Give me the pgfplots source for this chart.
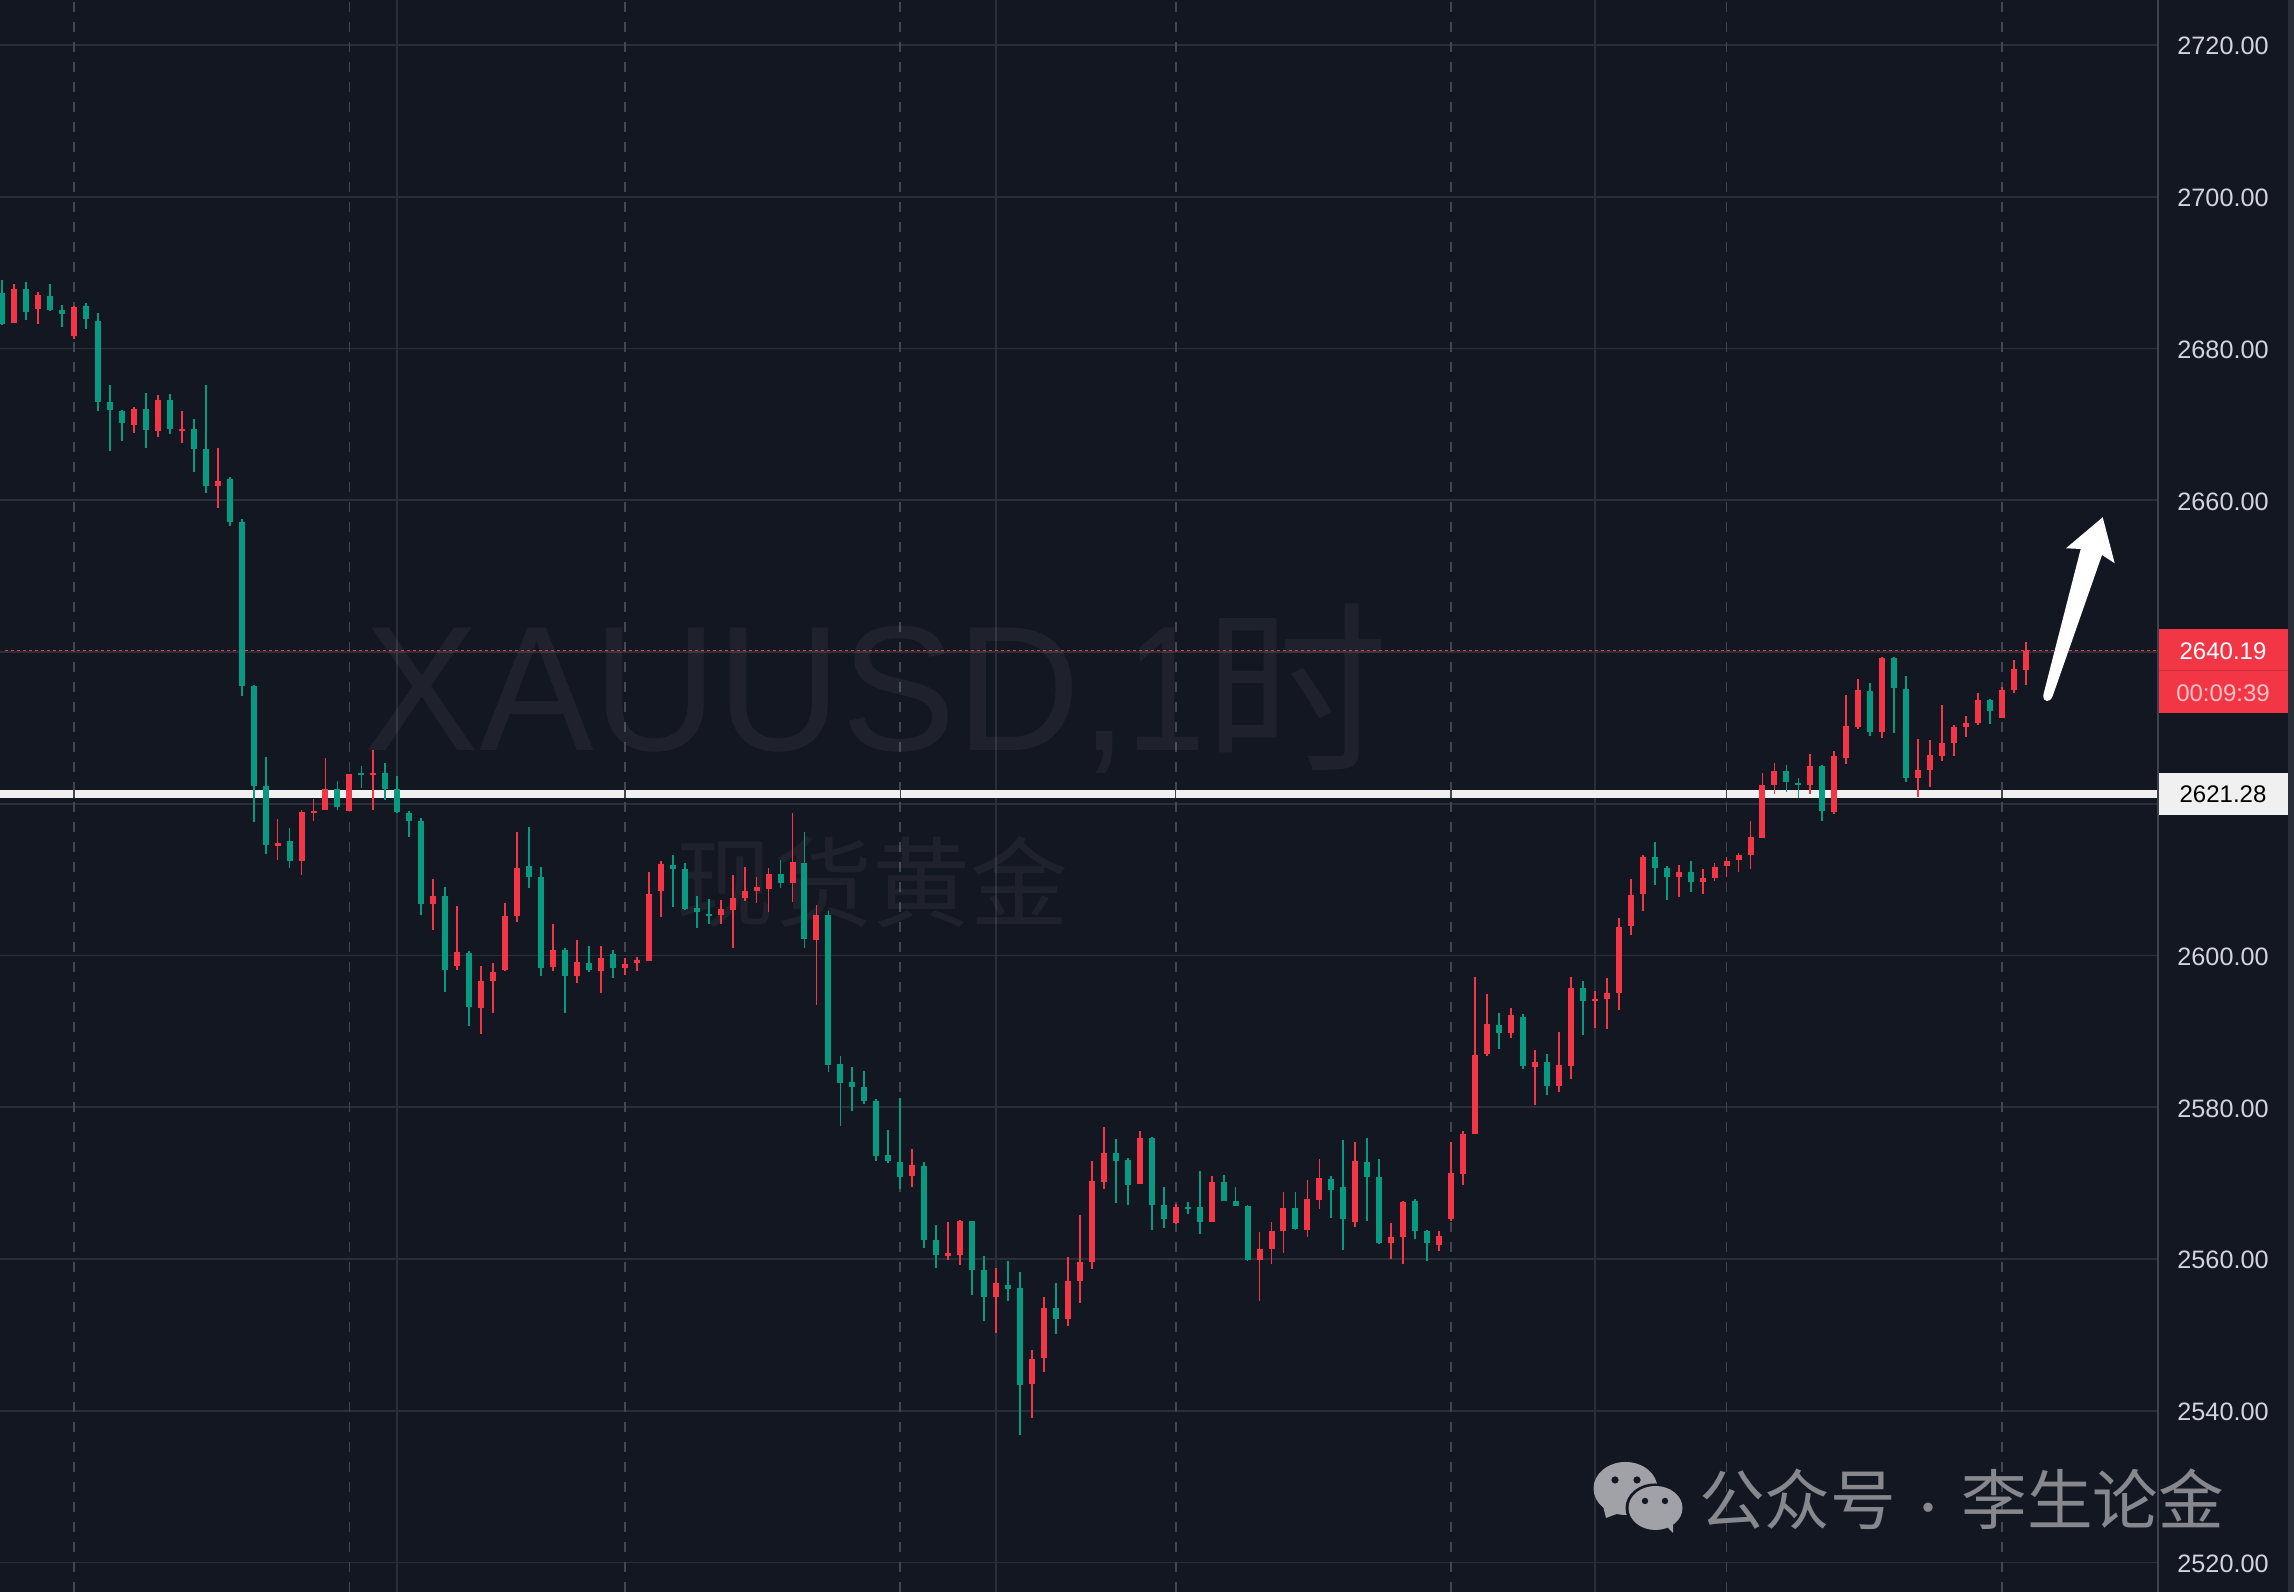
\documentclass[border=0pt]{standalone}
\usepackage{fontspec}
\usepackage{graphicx}
\usepackage{pgfplots}
\usepackage{pgfplotstable}
\pgfplotsset{compat=1.18}
\setmainfont{Liberation Sans}
\newfontfamily\cjk{Noto Sans CJK SC}

\definecolor{bg}{HTML}{131722}
\definecolor{gridc}{HTML}{2A2E39}
\definecolor{sessionc}{HTML}{434651}
\definecolor{axisc}{HTML}{3E424D}
\definecolor{upc}{HTML}{F23645}
\definecolor{downc}{HTML}{089981}
\definecolor{labelc}{HTML}{D1D4DC}
\definecolor{markc}{HTML}{87888D}

% i high low top bottom
\pgfplotstableread{
i hi lo top bot
1 2688.47 2683.36 2687.80 2683.36
3 2687.39 2683.23 2686.99 2685.18
6 2685.58 2681.21 2685.45 2681.61
11 2672.27 2668.84 2672.00 2669.92
13 2673.88 2668.30 2673.21 2669.11
15 2671.73 2667.50 2669.38 2669.11
18 2666.89 2658.96 2662.52 2661.85
23 2617.95 2612.57 2614.79 2614.39
25 2619.16 2610.62 2618.89 2612.44
26 2620.64 2617.68 2619.09 2618.75
27 2626.02 2619.16 2621.92 2619.16
29 2623.93 2619.02 2623.93 2619.02
31 2627.09 2619.16 2624.07 2623.80
36 2610.08 2603.36 2607.80 2606.79
38 2606.52 2598.05 2600.47 2598.59
40 2598.59 2589.65 2596.64 2593.08
41 2599.00 2592.40 2597.78 2596.64
42 2606.92 2597.92 2605.18 2598.05
43 2616.27 2604.37 2611.50 2605.18
46 2604.17 2598.00 2600.74 2598.51
48 2602.05 2596.40 2599.14 2597.31
50 2601.25 2595.08 2599.71 2598.00
52 2599.71 2597.37 2598.91 2598.34
53 2599.83 2598.00 2599.43 2599.03
54 2611.03 2599.31 2608.11 2599.31
55 2612.45 2605.08 2612.05 2608.51
60 2607.31 2604.17 2606.17 2605.37
61 2610.63 2601.03 2607.60 2606.00
62 2611.65 2607.20 2608.51 2607.54
63 2610.34 2606.91 2609.03 2608.51
64 2611.54 2605.77 2610.74 2608.80
66 2618.80 2607.08 2612.34 2609.54
68 2606.68 2593.48 2605.37 2602.05
76 2574.51 2569.54 2572.40 2570.97
79 2564.91 2559.88 2560.74 2560.40
80 2565.14 2559.25 2565.03 2560.57
83 2558.85 2550.28 2556.85 2555.03
86 2548.05 2539.08 2546.85 2543.54
87 2555.03 2545.14 2553.54 2546.97
89 2560.28 2551.20 2557.14 2552.11
90 2565.83 2554.23 2559.66 2557.14
91 2572.91 2558.68 2570.28 2559.66
92 2577.33 2569.17 2573.91 2570.09
95 2576.80 2569.83 2575.88 2569.83
98 2567.20 2564.57 2566.80 2564.70
101 2570.88 2564.83 2570.09 2564.83
105 2563.51 2554.43 2561.28 2559.83
106 2564.83 2559.30 2563.64 2561.28
107 2568.78 2560.75 2566.67 2563.64
109 2570.36 2562.86 2567.86 2563.78
110 2573.12 2566.54 2570.62 2567.72
113 2575.36 2564.17 2572.86 2564.83
116 2564.70 2559.96 2562.86 2562.07
117 2567.59 2559.30 2567.46 2562.86
120 2563.64 2561.01 2562.99 2561.80
121 2575.36 2564.96 2571.28 2565.22
122 2576.93 2569.70 2576.41 2571.15
123 2597.17 2576.41 2586.89 2576.41
124 2594.93 2586.80 2590.97 2587.06
126 2593.08 2589.13 2592.16 2589.79
128 2587.55 2580.30 2585.97 2585.31
130 2589.92 2582.01 2585.57 2582.80
131 2597.17 2583.73 2595.72 2585.44
133 2595.32 2590.45 2594.27 2594.00
134 2597.03 2590.31 2595.06 2594.27
135 2604.94 2592.82 2603.75 2595.06
136 2610.08 2602.70 2607.97 2603.88
137 2613.24 2605.86 2612.98 2608.10
140 2611.92 2607.70 2610.99 2610.34
142 2611.39 2608.10 2610.21 2609.68
143 2612.18 2609.81 2611.66 2610.21
144 2612.98 2610.34 2612.45 2611.79
145 2613.50 2611.00 2613.24 2612.58
146 2617.72 2611.39 2615.61 2613.24
147 2624.04 2615.48 2622.46 2615.48
148 2625.36 2621.28 2624.31 2622.46
151 2626.55 2621.28 2624.96 2622.46
153 2626.94 2618.64 2626.28 2618.90
154 2634.32 2625.23 2630.23 2626.02
155 2636.43 2629.84 2634.98 2630.06
157 2639.33 2628.65 2639.19 2629.44
160 2628.52 2620.88 2624.44 2623.38
161 2628.39 2622.20 2626.41 2624.44
162 2633.00 2625.62 2627.99 2626.28
163 2630.37 2626.28 2630.10 2627.99
164 2631.55 2628.78 2630.63 2630.10
165 2634.58 2630.37 2633.66 2630.63
167 2635.37 2631.29 2634.98 2631.29
168 2638.93 2634.58 2637.74 2634.98
169 2641.30 2635.64 2640.19 2637.61
}\upcandles

\pgfplotstableread{
i hi lo top bot
0 2689.07 2683.03 2687.26 2683.23
2 2688.74 2683.70 2687.80 2684.77
4 2688.47 2684.91 2686.86 2685.04
5 2685.71 2682.82 2685.04 2684.57
7 2685.98 2682.55 2685.58 2683.83
8 2684.64 2671.73 2683.56 2672.94
9 2675.16 2666.49 2672.94 2671.87
10 2671.87 2667.76 2671.73 2670.18
12 2674.08 2666.89 2672.00 2669.24
14 2673.95 2668.70 2673.21 2669.38
16 2670.66 2663.66 2669.38 2666.76
17 2675.16 2660.91 2666.76 2661.85
19 2663.06 2656.61 2662.79 2657.14
20 2657.48 2634.15 2657.14 2635.50
21 2635.63 2617.55 2635.50 2622.32
22 2626.15 2613.38 2622.32 2614.52
24 2616.81 2611.50 2615.06 2612.44
28 2623.00 2619.16 2621.92 2619.56
30 2624.94 2622.05 2624.07 2623.80
32 2625.34 2620.50 2624.07 2621.92
33 2623.66 2618.75 2621.92 2618.89
34 2619.02 2615.60 2618.75 2617.68
35 2618.08 2605.31 2617.68 2606.79
37 2609.00 2595.16 2607.80 2598.05
39 2600.60 2590.72 2600.33 2593.21
44 2616.94 2608.87 2611.77 2610.35
45 2611.65 2597.31 2610.34 2598.34
47 2601.03 2592.45 2600.74 2597.31
49 2601.25 2597.83 2599.03 2598.05
51 2600.74 2597.03 2600.23 2598.34
56 2613.25 2606.40 2611.94 2611.43
57 2612.17 2606.00 2611.43 2606.17
58 2607.88 2603.65 2606.28 2605.77
59 2607.48 2604.17 2605.48 2605.20
65 2612.63 2608.91 2610.74 2609.54
67 2616.28 2601.03 2612.23 2602.17
69 2605.88 2584.68 2605.37 2585.60
70 2586.80 2577.54 2585.71 2583.20
71 2585.31 2579.54 2583.37 2582.68
72 2584.80 2580.45 2582.68 2580.85
73 2581.08 2572.91 2580.85 2573.60
74 2577.03 2572.68 2573.71 2572.91
75 2581.25 2569.25 2572.80 2570.85
77 2572.80 2561.48 2572.28 2562.51
78 2564.51 2558.85 2562.51 2560.57
81 2565.03 2555.25 2565.03 2558.57
82 2560.40 2551.88 2558.57 2555.03
84 2559.77 2554.51 2556.63 2556.05
85 2558.34 2536.85 2556.23 2543.43
88 2556.85 2550.17 2553.54 2552.11
93 2575.75 2567.33 2573.91 2572.86
94 2573.25 2567.07 2572.99 2569.70
96 2576.01 2563.78 2575.88 2567.07
97 2569.43 2564.04 2567.07 2565.22
99 2567.46 2565.88 2566.80 2566.54
100 2571.54 2563.25 2566.80 2564.83
102 2571.01 2567.59 2570.09 2567.59
103 2569.43 2566.93 2567.59 2566.93
104 2567.07 2559.70 2566.93 2559.83
108 2568.78 2563.78 2566.67 2563.91
111 2570.88 2565.36 2570.49 2569.04
112 2575.62 2561.15 2569.43 2565.22
114 2575.88 2564.96 2572.72 2570.75
115 2573.12 2561.93 2570.75 2562.07
118 2567.86 2562.59 2567.59 2563.64
119 2563.78 2559.70 2563.64 2562.07
125 2592.42 2587.68 2590.84 2589.79
127 2592.29 2585.04 2591.90 2585.44
129 2587.02 2581.62 2585.97 2582.80
132 2596.64 2589.52 2595.72 2594.00
138 2614.95 2609.29 2612.98 2611.53
139 2611.79 2607.31 2611.53 2610.34
141 2612.45 2608.36 2610.99 2609.68
149 2625.10 2621.54 2624.31 2622.86
150 2623.38 2620.75 2622.72 2622.46
152 2625.10 2617.72 2624.96 2619.04
156 2635.90 2628.92 2634.85 2629.44
158 2639.33 2629.31 2639.19 2635.24
159 2636.82 2622.86 2635.11 2623.38
166 2633.79 2630.50 2633.66 2632.21
}\downcandles

% one candle set: wicks first, then bodies, both as error bars
\newcommand{\candles}[2]{%
  \addplot[draw=none, no markers, forget plot, error bars/.cd, y dir=minus, y explicit,
    error mark=none, error bar style={draw=#2, line width=0.45pt}]
    table[x=i, y=hi, y error expr=\thisrow{hi}-\thisrow{lo}] {#1};
  \addplot[draw=none, no markers, forget plot, error bars/.cd, y dir=minus, y explicit,
    error mark=none, error bar style={draw=#2, line width=1.5pt}]
    table[x=i, y=top, y error expr=\thisrow{top}-\thisrow{bot}] {#1};
}

\begin{document}
\begin{tikzpicture}
\path[use as bounding box] (0,0) rectangle (573.5pt,398pt);
\fill[bg] (0,0) rectangle (573.5pt,398pt);
\begin{axis}[
    scale only axis,
    width=539.5pt,
    height=398pt,
    xmin=-0.18, xmax=180.03,
    ymin=2516.11, ymax=2725.93,
    axis line style={draw=none},
    tick style={draw=none},
    major tick length=0pt,
    xtick={33,83,133},
    xticklabels={},
    xmajorgrids,
    extra x ticks={6,29,52,75,98,121,144,167},
    extra x tick labels={},
    extra x tick style={grid=major, major grid style={draw=sessionc, line width=0.45pt, dash pattern=on 2.5pt off 2.5pt}},
    ytick={2520,2540,2560,2580,2600,2620,2640,2660,2680,2700,2720},
    yticklabels={2520.00,2540.00,2560.00,2580.00,2600.00,,,2660.00,2680.00,2700.00,2720.00},
    ymajorgrids,
    grid style={draw=gridc, line width=0.45pt},
    yticklabel pos=right,
    yticklabel style={anchor=center, xshift=16.25pt, yshift=-0.3pt, inner sep=0pt, text=labelc, font=\fontsize{6.3}{7}\selectfont},
]
\node[anchor=base west, text=white, text opacity=0.05, inner sep=0pt] at (rel axis cs:0.1685,0.5283)
  {\scalebox{0.965}[1]{\fontsize{44.5}{50}\selectfont XAUUSD,}};
\node[anchor=base, text=white, text opacity=0.05, inner sep=0pt] at (rel axis cs:0.5405,0.5283)
  {\scalebox{0.8}[1]{\fontsize{44.5}{50}\selectfont 1}};
\node[anchor=base, text=white, text opacity=0.05, inner sep=0pt] at (rel axis cs:0.6010,0.5239)
  {\cjk\fontsize{46}{50}\selectfont 时};
\node[anchor=base, text=white, text opacity=0.05, inner sep=0pt] at (rel axis cs:0.4045,0.4227)
  {\cjk\fontsize{24.5}{28}\selectfont 现货黄金};

\addplot[upc, line width=0.45pt, dash pattern=on 0.75pt off 0.75pt, forget plot] coordinates {(0.2,2640.19) (180.06,2640.19)};
\addplot[draw=white!94!black, line width=2pt, forget plot] coordinates {(-0.18,2621.28) (180.03,2621.28)};
\pgfplotsinvokeforeach{6,29,52,75,98,121,144,167}{
  \draw[sessionc, line width=0.35pt] (axis cs:#1,2620.75) -- (axis cs:#1,2621.81);
}

\candles{\upcandles}{upc}
\candles{\downcandles}{downc}
\end{axis}

% pixel coordinates of the reference from here on
\begin{scope}[x=0.25pt, y=-0.25pt, yshift=398pt]
\draw[axisc, line width=0.5pt] (2158,0) -- (2158,1592);
\fill[gridc] (2288,0) rectangle (2294,1592);

\fill[upc] (2159,629) rectangle (2288,713);
\draw[black!15!upc, line width=0.25pt] (2159,671) -- (2288,671);
\node[text=white, inner sep=0pt, font=\fontsize{6}{7}\selectfont] at (2223,651) {2640.19};
\node[text=white!70!upc, inner sep=0pt, font=\fontsize{6}{7}\selectfont] at (2223,693) {00:09:39};

\fill[white!94!black] (2159,773) rectangle (2288,815);
\node[text=black, inner sep=0pt, font=\fontsize{6}{7}\selectfont] at (2223,794) {2621.28};

% hand-drawn arrow
\fill[white] (2102.7,517.3) -- (2114.7,563.3) -- (2102,555) -- (2052.7,696)
  .. controls (2050,703) and (2043,703) .. (2043.3,695) -- (2080.7,549) -- (2066,548.3) -- cycle;

% wechat mark
\fill[white!60!bg] (1625.5,1488.5) ellipse [x radius=32, y radius=26.5];
\fill[white!60!bg] (1603,1506) -- (1606,1518) -- (1622,1512) -- cycle;
\fill[bg] (1655,1508) ellipse [x radius=29.5, y radius=24.5];
\fill[white!60!bg] (1655.5,1508) ellipse [x radius=27, y radius=22];
\fill[white!60!bg] (1665,1525) -- (1673,1533) -- (1673,1522) -- cycle;
\fill[bg] (1615,1480) circle (3.6);
\fill[bg] (1637,1480) circle (3.6);
\fill[bg] (1645,1501) circle (3.2);
\fill[bg] (1665,1501) circle (3.2);

\node[text=markc, inner sep=0pt] at (1961.5,1499)
  {\cjk\fontsize{16.4}{18}\selectfont 公众号\makebox[1em]{\fontsize{11}{12}\selectfont ·}李生论金};
\end{scope}
\end{tikzpicture}
\end{document}
